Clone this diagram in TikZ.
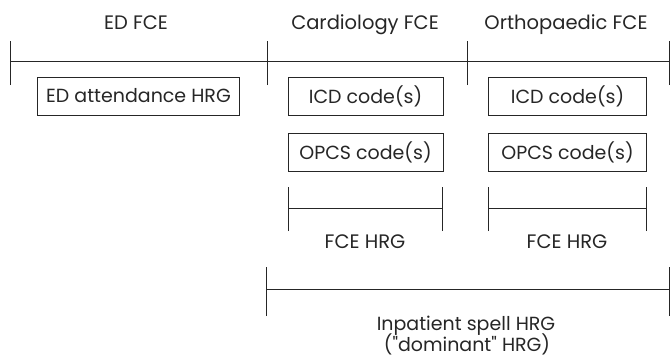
\documentclass[tikz,border=0pt]{standalone}
\usepackage{fontspec}
\setmainfont{Poppins}
\begin{document}
\begin{tikzpicture}[x=1pt,y=-1pt,
  ln/.style={line width=1pt, draw=black!85},
  lbl/.style={inner sep=0pt, anchor=base, text=black!85, font=\fontsize{19.5}{22}\selectfont},
  box/.style={draw=black!85, line width=1pt, inner sep=0pt, minimum height=38pt, text=black!85, font=\fontsize{19}{22}\selectfont}]
\useasboundingbox (0,0) rectangle (671,359);
% header labels
\node[lbl] (edl) at (136,29) {ED FCE};
\node[lbl] (cardl) at (365,29) {Cardiology FCE};
\node[lbl] (orthl) at (566,29) {Orthopaedic FCE};
% top axis
\coordinate (t0) at (10,61);
\coordinate (t1) at (267,61);
\coordinate (t2) at (467,61);
\coordinate (t3) at (669,61);
\draw[ln] (t0) -- (t3);
\foreach \c in {t0,t1,t2,t3} \draw[ln] ([yshift=-24pt]\c) -- ([yshift=20pt]\c);
% boxes
\node[box, minimum width=202pt] (ed) at (138.5,96) {ED attendance HRG};
\node[box, minimum width=155pt] (icd1) at (365.5,96) {ICD code(s)};
\node[box, minimum width=158pt] (icd2) at (567.5,96) {ICD code(s)};
\node[box, minimum width=155pt] (opcs1) at (365.5,152) {OPCS code(s)};
\node[box, minimum width=158pt] (opcs2) at (567.5,152) {OPCS code(s)};
% FCE HRG brackets
\coordinate (f1a) at (288,208);
\coordinate (f1b) at (442,208);
\coordinate (f2a) at (488,208);
\coordinate (f2b) at (646,208);
\draw[ln] (f1a) -- (f1b);
\draw[ln] (f2a) -- (f2b);
\foreach \c in {f1a,f1b,f2a,f2b} \draw[ln] ([yshift=-23pt]\c) -- ([yshift=21pt]\c);
\node[lbl] (fh1) at (365,248) {FCE HRG};
\node[lbl] (fh2) at (567,248) {FCE HRG};
% spell bracket
\coordinate (s0) at (266,289);
\coordinate (s1) at (669,289);
\draw[ln] (s0) -- (s1);
\foreach \c in {s0,s1} \draw[ln] ([yshift=-27pt]\c) -- ([yshift=22pt]\c);
\node[lbl, font=\fontsize{19}{22}\selectfont] (sp1) at (466,330) {Inpatient spell HRG};
\node[lbl, font=\fontsize{19}{22}\selectfont] (sp2) at (467,351.5) {(\textquotedbl dominant\textquotedbl{} HRG)};
\end{tikzpicture}
\end{document}
